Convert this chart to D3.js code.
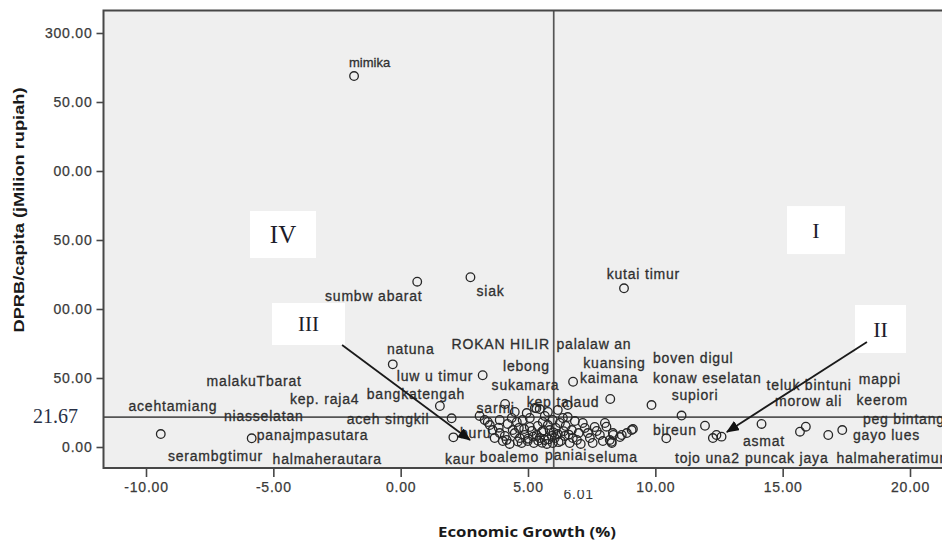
<!DOCTYPE html>
<html><head><meta charset="utf-8">
<script src="https://cdn.jsdelivr.net/npm/d3@7"></script>
<style>body{margin:0;background:#fff;} svg{display:block;}</style>
</head><body><svg id="chart" width="942" height="543"></svg>
<script>
// ---------- data ----------
const xTickValues = [-10, -5, 0, 5, 10, 15, 20];
const yTickValues = [0, 50, 100, 150, 200, 250, 300];
const yTickLabels = ["0.00", "50.00", "00.00", "50.00", "00.00", "50.00", "300.00"];
const meanGrowth = 6.01;
const meanDPRB = 21.67;

const pointGrowth = [
  -1.83, 0.65, 2.74, 8.77, -0.31, 3.22, 6.77, 8.23, 9.85, 11.03, 1.54, 2.00, 2.07, 4.10, -9.42, -5.85,
  11.95, 12.26, 12.40, 12.60, 14.17, 15.68, 15.91, 16.79, 17.34, 10.43, 9.07, 8.68, 8.28, 8.35, 8.08, 5.33,
  3.10, 3.42, 3.30, 3.50, 3.61, 3.69, 3.85, 3.89, 3.89, 4.01, 4.09, 4.16, 4.20, 4.28, 4.36, 4.40, 4.48, 4.48,
  4.56, 4.64, 4.68, 4.75, 4.79, 4.87, 4.95, 4.99, 5.07, 5.07, 5.15, 5.23, 5.27, 5.34, 5.38, 5.46, 5.46, 5.54,
  5.58, 5.66, 5.66, 5.74, 5.78, 5.78, 5.85, 5.93, 5.97, 5.97, 6.05, 6.09, 6.17, 6.17, 6.25, 6.29, 6.37, 6.44,
  6.48, 6.56, 6.56, 6.64, 6.72, 6.76, 6.84, 6.92, 6.99, 7.07, 7.15, 7.23, 7.35, 7.43, 7.54, 7.62, 7.70, 7.82,
  7.94, 8.02, 8.21, 8.33, 8.61, 8.88, 9.12, 8.29,
  4.60, 5.00, 5.40, 5.80, 6.20, 6.60, 5.20, 5.60, 6.00, 6.40, 4.85, 5.55
];
const pointDPRB = [
  268.8, 119.8, 123.0, 115.0, 59.9, 52.0, 47.3, 34.8, 30.4, 22.8, 29.7, 20.8, 7.0, 31.2, 9.4, 6.3,
  15.4, 6.5, 8.7, 7.5, 16.7, 11.1, 14.7, 8.7, 12.3, 6.3, 12.3, 8.7, 3.8, 8.7, 14.7, 28.0,
  22.5, 18.1, 19.6, 15.9, 12.3, 6.5, 14.0, 10.1, 19.6, 4.3, 8.0, 5.1, 16.7, 2.2, 21.0, 12.3, 10.1, 25.4,
  18.1, 13.8, 6.5, 2.9, 19.6, 8.7, 24.6, 4.3, 14.5, 21.0, 11.6, 2.9, 28.3, 8.7, 15.2, 6.5, 27.5, 10.9,
  18.1, 5.1, 22.5, 2.2, 15.9, 25.4, 12.3, 8.0, 2.9, 19.6, 6.5, 13.8, 9.4, 26.8, 17.4, 4.3, 21.0, 8.0,
  15.2, 30.4, 21.7, 2.9, 12.3, 6.5, 18.8, 5.1, 10.1, 2.2, 17.4, 13.8, 10.1, 6.5, 2.9, 14.5, 11.6, 8.7,
  4.3, 17.4, 5.1, 10.1, 7.2, 10.1, 13.0, 2.9,
  4.0, 6.0, 4.5, 5.5, 3.5, 9.0, 7.5, 12.0, 10.5, 11.5, 13.0, 3.0
];

const labelNames = [
  "mimika", "sumbw abarat", "siak", "kutai timur", "natuna", "ROKAN HILIR", "palalaw an", "lebong",
  "kuansing", "boven digul", "luw u timur", "kaimana", "konaw eselatan", "sukamara", "malakuTbarat",
  "teluk bintuni", "mappi", "bangkatengah", "kep. raja4", "supiori", "morow ali", "keerom", "kep talaud",
  "acehtamiang", "sarmi", "niasselatan", "aceh singkil", "peg bintang", "bireun", "buru", "panajmpasutara",
  "gayo lues", "asmat", "serambgtimur", "boalemo", "paniai", "seluma", "tojo una2", "puncak jaya",
  "halmaheratimur", "halmaherautara", "kaur"
];
const labelGrowth = [
  -2.03, -2.97, 2.98, 8.09, -0.54, 2.00, 6.12, 4.02,
  7.17, 9.91, -0.15, 7.04, 9.91, 3.57, -7.62,
  14.37, 17.99, -1.33, -4.35, 10.64, 14.70, 17.90, 4.95,
  -10.69, 2.98, -6.94, -2.12, 18.15, 9.91, 2.33, -5.65,
  17.76, 13.44, -9.14, 3.11, 5.67, 7.35, 10.77, 13.52,
  17.11, -5.03, 1.74
];
const labelDPRB = [
  275.4, 105.8, 109.4, 121.7, 67.4, 71.0, 71.0, 55.1,
  57.2, 60.9, 47.8, 46.4, 46.4, 41.3, 44.2,
  41.3, 45.7, 34.8, 31.2, 34.1, 29.7, 30.4, 29.0,
  26.1, 24.6, 18.8, 16.7, 16.7, 8.7, 6.5, 5.1,
  5.1, 0.7, -10.1, -10.9, -9.4, -10.9, -11.6, -11.6,
  -11.6, -12.3, -12.3
];

const quadrantNames = ["IV", "I", "III", "II"];
const quadrantGrowth = [-4.62, 16.31, -3.62, 18.84];
const quadrantDPRB = [154.0, 157.2, 89.1, 85.5];

const arrowFromGrowth = [-2.30, 18.31];
const arrowFromDPRB = [73.9, 76.1];
const arrowToGrowth = [2.72, 12.81];
const arrowToDPRB = [5.1, 10.9];

// ---------- layout ----------
const W = 942, H = 543;
const svg = d3.select("#chart");
const x = d3.scaleLinear().domain([-10, 20]).range([146, 910]);
const y = d3.scaleLinear().domain([0, 300]).range([447, 33]);
const frame = {left: 103.5, top: 10.5, right: 960, bottom: 468};
const sans = "'Liberation Sans', Arial, sans-serif";
const serif = "'Liberation Serif', 'Times New Roman', serif";
const ink = "#2f2f2f";

svg.append("rect").attr("width", W).attr("height", H).attr("fill", "#fff");

const defs = svg.append("defs");
defs.append("clipPath").attr("id", "plotclip")
  .append("rect").attr("x", frame.left).attr("y", frame.top)
  .attr("width", frame.right - frame.left).attr("height", frame.bottom - frame.top);

svg.append("rect")
  .attr("x", frame.left).attr("y", frame.top)
  .attr("width", frame.right - frame.left).attr("height", frame.bottom - frame.top)
  .attr("fill", "#efefef");

const plot = svg.append("g").attr("clip-path", "url(#plotclip)");

// mean lines
plot.append("line")
  .attr("x1", x(meanGrowth)).attr("x2", x(meanGrowth))
  .attr("y1", frame.top).attr("y2", frame.bottom)
  .attr("stroke", "#555").attr("stroke-width", 1.7);
plot.append("line")
  .attr("x1", frame.left).attr("x2", frame.right)
  .attr("y1", y(meanDPRB)).attr("y2", y(meanDPRB))
  .attr("stroke", "#555").attr("stroke-width", 1.7);

// quadrant boxes
const boxW = [66, 58, 73, 51], boxH = [47, 48, 42, 48], qSize = [25, 22, 21, 22];
quadrantNames.forEach((q, i) => {
  const cx = x(quadrantGrowth[i]), cy = y(quadrantDPRB[i]);
  plot.append("rect").attr("x", cx - boxW[i] / 2).attr("y", cy - boxH[i] / 2)
    .attr("width", boxW[i]).attr("height", boxH[i]).attr("fill", "#ffffff");
  plot.append("text").attr("x", cx).attr("y", cy).attr("dy", "0.35em")
    .attr("text-anchor", "middle").attr("font-family", serif)
    .attr("font-size", qSize[i]).attr("fill", "#1c1c2a").text(q);
});

// labels
plot.selectAll("text.lbl").data(labelNames).join("text")
  .attr("class", "lbl")
  .attr("x", (d, i) => x(labelGrowth[i]))
  .attr("y", (d, i) => y(labelDPRB[i]))
  .attr("font-family", sans)
  .attr("font-size", d => d === "mimika" ? 13 : 14)
  .attr("letter-spacing", d => d === "mimika" ? 0 : 0.8)
  .attr("fill", ink)
  .attr("stroke", ink).attr("stroke-width", 0.3)
  .text(d => d);

// points
plot.selectAll("circle.pt").data(pointGrowth).join("circle")
  .attr("class", "pt")
  .attr("cx", (d) => x(d))
  .attr("cy", (d, i) => y(pointDPRB[i]))
  .attr("r", 4.3)
  .attr("fill", "none")
  .attr("stroke", "#262626")
  .attr("stroke-width", 1.3);

// arrows
defs.append("marker")
  .attr("id", "ah").attr("viewBox", "0 0 12 10").attr("refX", 11).attr("refY", 5)
  .attr("markerWidth", 13).attr("markerHeight", 11).attr("markerUnits", "userSpaceOnUse")
  .attr("orient", "auto")
  .append("path").attr("d", "M0,0 L12,5 L0,10 Z").attr("fill", "#111");
arrowFromGrowth.forEach((g, i) => {
  plot.append("line")
    .attr("x1", x(g)).attr("y1", y(arrowFromDPRB[i]))
    .attr("x2", x(arrowToGrowth[i])).attr("y2", y(arrowToDPRB[i]))
    .attr("stroke", "#1a1a1a").attr("stroke-width", 1.8)
    .attr("marker-end", "url(#ah)");
});

// frame
svg.append("rect")
  .attr("x", frame.left).attr("y", frame.top)
  .attr("width", frame.right - frame.left).attr("height", frame.bottom - frame.top)
  .attr("fill", "none").attr("stroke", "#474747").attr("stroke-width", 2);

// axes
const xAxis = svg.append("g").attr("transform", `translate(0,${frame.bottom})`)
  .call(d3.axisBottom(x).tickValues(xTickValues).tickFormat(d => d.toFixed(2)).tickSize(9).tickPadding(5));
const yAxis = svg.append("g").attr("transform", `translate(${frame.left},0)`)
  .call(d3.axisLeft(y).tickValues(yTickValues).tickFormat((d, i) => yTickLabels[i]).tickSize(7).tickPadding(4));
[xAxis, yAxis].forEach(a => {
  a.select(".domain").remove();
  a.selectAll(".tick line").attr("stroke", "#474747").attr("stroke-width", 1.6);
  a.selectAll(".tick text").attr("font-family", sans).attr("font-size", 14)
    .attr("letter-spacing", 0.8).attr("fill", "#3a3a3a")
    .attr("stroke", "#3a3a3a").attr("stroke-width", 0.25);
});

// mean value labels
defs.append("clipPath").attr("id", "meanclip")
  .append("rect").attr("x", 540).attr("y", 490).attr("width", 80).attr("height", 30);
svg.append("text").attr("clip-path", "url(#meanclip)")
  .attr("x", x(meanGrowth) + 25).attr("y", 499).attr("text-anchor", "middle")
  .attr("font-family", sans).attr("font-size", 14).attr("letter-spacing", 0.8)
  .attr("fill", "#3a3a3a").text(meanGrowth.toFixed(2));
svg.append("text")
  .attr("x", 33).attr("y", y(meanDPRB) + 6)
  .attr("font-family", serif).attr("font-size", 20).attr("fill", "#283046")
  .text(meanDPRB.toFixed(2));

// axis titles
svg.append("text")
  .attr("x", 527).attr("y", 537).attr("text-anchor", "middle")
  .attr("font-family", "'Open Sans', sans-serif").attr("font-weight", 700)
  .attr("font-size", 15).attr("fill", "#1a1a1a")
  .attr("textLength", 178).attr("lengthAdjust", "spacingAndGlyphs")
  .text("Economic Growth (%)");
svg.append("text")
  .attr("transform", "translate(24,210) rotate(-90)")
  .attr("text-anchor", "middle")
  .attr("font-family", sans).attr("font-weight", 700)
  .attr("font-size", 15).attr("fill", "#1a1a1a")
  .attr("textLength", 245).attr("lengthAdjust", "spacingAndGlyphs")
  .text("DPRB/capita (jMilion rupiah)");
</script>
</body></html>
